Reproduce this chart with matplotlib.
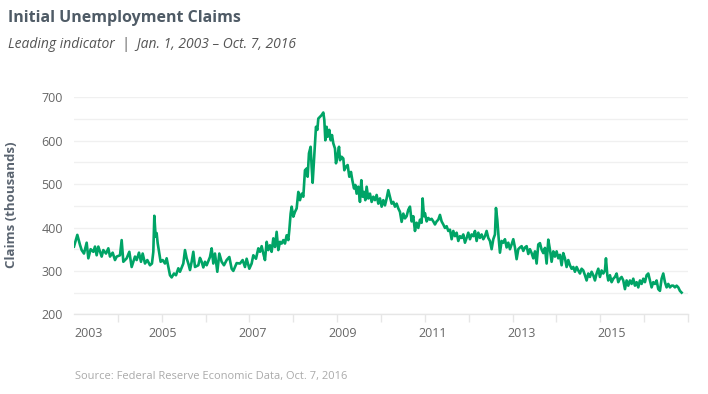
"""Initial Unemployment Claims — weekly line, 2003–2016"""
import matplotlib.pyplot as plt
import numpy as np

plt.rcParams['font.family'] = ['Open Sans', 'DejaVu Sans']

# values (thousands); x is position on the labelled year axis
yr = [
    2003.000, 2003.076, 2003.137, 2003.175, 2003.228, 2003.289, 2003.327, 2003.380,
    2003.441, 2003.479, 2003.517, 2003.555, 2003.631, 2003.669, 2003.730, 2003.783,
    2003.821, 2003.882, 2003.935, 2003.973, 2004.049, 2004.087, 2004.125, 2004.201,
    2004.262, 2004.315, 2004.391, 2004.429, 2004.482, 2004.528, 2004.566, 2004.619,
    2004.672, 2004.733, 2004.778, 2004.809, 2004.832, 2004.862, 2004.885, 2004.908,
    2004.946, 2004.976, 2005.022, 2005.075, 2005.113, 2005.151, 2005.189, 2005.227,
    2005.280, 2005.326, 2005.379, 2005.417, 2005.493, 2005.531, 2005.569, 2005.607,
    2005.645, 2005.683, 2005.721, 2005.759, 2005.835, 2005.873, 2005.911, 2005.949,
    2005.987,
    2006.025, 2006.101, 2006.139, 2006.177, 2006.215, 2006.268, 2006.314, 2006.367,
    2006.420, 2006.481, 2006.542, 2006.595, 2006.633, 2006.709, 2006.785, 2006.846,
    2006.899, 2006.937, 2006.998, 2007.051, 2007.089, 2007.150, 2007.203, 2007.241,
    2007.279, 2007.317, 2007.355, 2007.393, 2007.431, 2007.469, 2007.507, 2007.545,
    2007.583, 2007.621, 2007.659, 2007.697, 2007.735, 2007.773, 2007.811, 2007.849,
    2007.887, 2007.910, 2007.940,
    2007.963, 2008.001, 2008.039, 2008.077, 2008.115, 2008.153, 2008.191, 2008.229,
    2008.267, 2008.305, 2008.328, 2008.358, 2008.396, 2008.419, 2008.442, 2008.473,
    2008.495, 2008.518, 2008.549, 2008.571, 2008.609, 2008.647, 2008.685, 2008.708,
    2008.731, 2008.761, 2008.784, 2008.822, 2008.853, 2008.883, 2008.913, 2008.951,
    2008.974, 2009.005, 2009.043, 2009.066, 2009.103, 2009.141, 2009.164, 2009.202,
    2009.240, 2009.278, 2009.316, 2009.347, 2009.385, 2009.415, 2009.445, 2009.483,
    2009.521, 2009.552, 2009.582, 2009.612, 2009.643, 2009.673, 2009.711, 2009.749,
    2009.787, 2009.825, 2009.863, 2009.901, 2009.939, 2009.977, 2010.015, 2010.053,
    2010.091, 2010.129, 2010.167, 2010.205, 2010.243, 2010.281, 2010.319, 2010.357,
    2010.395, 2010.433, 2010.471, 2010.509, 2010.547,
    2010.585, 2010.623, 2010.661, 2010.699, 2010.737, 2010.775, 2010.813, 2010.851,
    2010.889, 2010.927, 2010.950, 2010.980, 2011.003, 2011.041, 2011.079, 2011.117,
    2011.155, 2011.193, 2011.231, 2011.269, 2011.307, 2011.345, 2011.383, 2011.421,
    2011.459, 2011.497, 2011.535, 2011.573, 2011.611, 2011.649, 2011.687, 2011.725,
    2011.763, 2011.801, 2011.839, 2011.877, 2011.915, 2011.953, 2011.991, 2012.029,
    2012.067, 2012.105, 2012.143, 2012.181, 2012.219, 2012.257, 2012.295, 2012.333,
    2012.371, 2012.409, 2012.447, 2012.485, 2012.523, 2012.561, 2012.599, 2012.622,
    2012.652, 2012.683, 2012.713, 2012.751, 2012.789, 2012.827, 2012.865, 2012.903,
    2012.941, 2012.979, 2013.017, 2013.055, 2013.093, 2013.131, 2013.169, 2013.207,
    2013.245, 2013.283, 2013.321, 2013.359, 2013.397,
    2013.435, 2013.473, 2013.511, 2013.549, 2013.587, 2013.625, 2013.663, 2013.701,
    2013.739, 2013.777, 2013.815, 2013.853, 2013.891, 2013.929, 2013.967, 2014.005,
    2014.043, 2014.081, 2014.119, 2014.157, 2014.195, 2014.233, 2014.271, 2014.309,
    2014.347, 2014.385, 2014.423, 2014.461, 2014.499, 2014.537, 2014.575, 2014.613,
    2014.651, 2014.689, 2014.727, 2014.765, 2014.803, 2014.841, 2014.879, 2014.917,
    2014.955, 2014.993, 2015.031, 2015.069, 2015.107, 2015.130, 2015.161, 2015.183,
    2015.221, 2015.259, 2015.297, 2015.335, 2015.373, 2015.411, 2015.449, 2015.487,
    2015.525, 2015.563, 2015.601, 2015.639, 2015.677, 2015.715, 2015.753, 2015.791,
    2015.829, 2015.867, 2015.905, 2015.943, 2015.981, 2016.019, 2016.057, 2016.095,
    2016.133, 2016.171, 2016.209, 2016.247, 2016.285, 2016.323, 2016.361, 2016.399,
    2016.437, 2016.475, 2016.513, 2016.551, 2016.589, 2016.627, 2016.665, 2016.703,
    2016.741, 2016.779, 2016.817, 2016.855,
]
claims = [
    356, 383, 360, 348, 340, 365, 329, 350,
    344, 356, 336, 356, 333, 348, 340, 352,
    333, 342, 325, 333, 336, 371, 321, 329,
    344, 309, 333, 325, 342, 321, 340, 317,
    325, 313, 317, 344, 427, 379, 387, 364,
    340, 321, 325, 317, 329, 309, 290, 285,
    294, 290, 306, 298, 317, 348, 329, 317,
    302, 321, 344, 309, 313, 330, 321, 308,
    321,
    313, 332, 352, 317, 340, 298, 340, 321,
    313, 325, 332, 305, 300, 318, 317, 325,
    309, 328, 305, 317, 336, 328, 352, 344,
    357, 340, 325, 367, 348, 359, 344, 375,
    355, 390, 348, 367, 363, 371, 363, 382,
    371, 394, 432,
    448, 425, 436, 444, 482, 463, 478, 471,
    532, 536, 517, 571, 586, 540, 503, 555,
    594, 632, 625, 651, 655, 659, 665, 648,
    601, 632, 609, 625, 601, 613, 594, 582,
    548, 563, 586, 555, 563, 559, 532, 540,
    544, 517, 528, 509, 490, 498, 478, 494,
    459, 509, 471, 482, 463, 494, 467, 478,
    459, 471, 463, 475, 455, 467, 448, 463,
    451, 467, 486, 471, 455, 459, 448, 455,
    444, 436, 413, 432, 421,
    426, 441, 448, 414, 426, 392, 411, 399,
    418, 411, 467, 426, 433, 414, 422, 418,
    420, 414, 407, 414, 418, 429, 414, 407,
    399, 403, 392, 395, 373, 392, 380, 388,
    369, 380, 376, 384, 365, 376, 388, 373,
    384, 380, 392, 369, 388, 376, 384, 373,
    380, 392, 376, 369, 350, 373, 384, 445,
    418, 376, 342, 369, 365, 373, 354, 365,
    350, 361, 373, 354, 327, 350, 354, 357,
    346, 354, 357, 339, 350,
    341, 329, 345, 317, 361, 364, 349, 341,
    353, 317, 372, 349, 321, 345, 333, 345,
    329, 337, 313, 341, 329, 309, 325, 313,
    305, 309, 298, 309, 301, 294, 305, 301,
    290, 278, 294, 286, 298, 290, 278, 294,
    305, 286, 301, 294, 301, 329, 290, 278,
    290, 274, 282, 286, 294, 274, 282, 286,
    278, 258, 278, 266, 278, 270, 282, 266,
    274, 262, 278, 270, 282, 274, 290, 294,
    278, 262, 274, 270, 278, 258, 254, 282,
    294, 274, 262, 270, 262, 266, 266, 262,
    266, 262, 254, 250,
]

year_ticks = list(range(2003, 2018))
# the labels sit slightly off the yearly tick marks in the original
label_pos = [2003.0, 2005.03, 2007.08, 2009.13, 2011.17, 2013.21, 2015.27]
label_txt = ['2003', '2005', '2007', '2009', '2011', '2013', '2015']
y_major = [200, 300, 400, 500, 600, 700]
y_minor = [250, 350, 450, 550, 650]

fig = plt.figure(figsize=(7.08, 3.94), dpi=100)
fig.patch.set_facecolor('white')
ax = fig.add_axes([0.1045, 0.2023, 0.8672, 0.5507])

ax.plot(yr, claims, color='#00a466', lw=1.9, solid_joinstyle='round', zorder=3)

ax.set_xlim(2003, 2017)
ax.set_ylim(200, 700)

# grid every 50, labels every 100
ax.set_yticks(y_major)
ax.set_yticks(y_minor, minor=True)
ax.grid(axis='y', which='both', color='#f0f0f0', lw=1, zorder=0)
ax.tick_params(axis='y', which='both', length=0, pad=8, labelsize=9, labelcolor='#666666')

# yearly tick marks (minor), labels on their own (major, no mark)
ax.set_xticks(year_ticks, minor=True)
ax.set_xticks(label_pos)
ax.set_xticklabels(label_txt)
ax.get_xticklabels()[0].set_horizontalalignment('left')
ax.tick_params(axis='x', which='minor', length=6, width=1, color='#e6e6e6')
ax.tick_params(axis='x', which='major', length=6, width=0, pad=3,
               labelsize=9, labelcolor='#666666')

for s in ['top', 'right', 'left']:
    ax.spines[s].set_visible(False)
ax.spines['bottom'].set_color('#e6e6e6')
ax.spines['bottom'].set_linewidth(1)

# titles and notes
fig.text(8 / 708, 1 - 18 / 394, 'Initial Unemployment Claims', fontsize=11.5,
         fontweight='bold', color='#4f5b66', ha='left', va='center')
fig.text(8 / 708, 1 - 45 / 394, 'Leading indicator  |  Jan. 1, 2003 – Oct. 7, 2016',
         fontsize=10, style='italic', color='#555555', ha='left', va='center')
fig.text(12 / 708, 1 - 205 / 394, 'Claims (thousands)', fontsize=9.5,
         fontweight='bold', color='#5a6470', rotation=90, ha='center', va='center')
fig.text(75 / 708, 1 - 377 / 394, 'Source: Federal Reserve Economic Data, Oct. 7, 2016',
         fontsize=8, color='#aaaaaa', ha='left', va='center')

plt.savefig('out.png', dpi=100, facecolor='white')
